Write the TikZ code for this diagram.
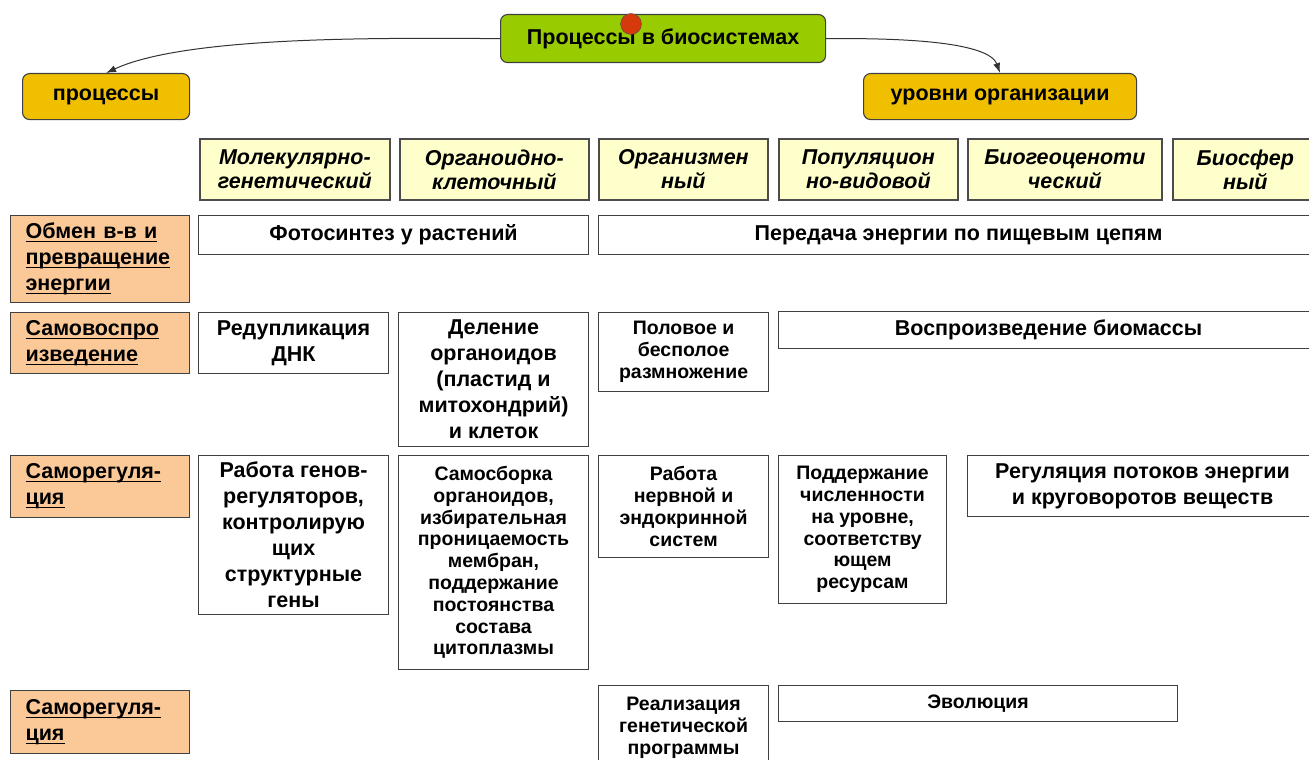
\documentclass[tikz,border=0pt]{standalone}
\usepackage{fontspec}
\setmainfont{Liberation Sans}
\usetikzlibrary{arrows.meta,positioning}
\newcommand{\ulrow}[1]{\leavevmode\setbox0\hbox{#1}\rlap{\rule[-3.5pt]{\wd0}{1.3pt}}\box0}
\definecolor{rootgreen}{RGB}{153,204,0}
\definecolor{groupgold}{RGB}{240,192,0}
\definecolor{levelyellow}{RGB}{255,255,204}
\definecolor{rowpeach}{RGB}{251,201,152}
\definecolor{dotred}{RGB}{214,58,12}
\tikzset{basic/.style={draw=black!75,line width=1.1pt,anchor=north west,inner sep=0pt,align=center,font=\bfseries\fontsize{21.5}{26}\selectfont}}
\tikzset{root/.style={basic,fill=rootgreen,rounded corners=7pt}}
\tikzset{group/.style={basic,fill=groupgold,rounded corners=7pt}}
\tikzset{level/.style={basic,fill=levelyellow,draw=black!70,line width=1.7pt,minimum height=61pt,font=\bfseries\itshape\fontsize{21.5}{24}\selectfont}}
\tikzset{row/.style={basic,fill=rowpeach,align=left,text width=149pt,minimum width=179pt}}
\tikzset{cell/.style={basic,fill=white}}
\tikzset{small/.style={font=\bfseries\fontsize{19.5}{21.8}\selectfont}}
\tikzset{link/.style={draw=black!80,line width=1pt,-{Latex[length=10pt,width=7pt]}}}

\begin{document}
\begin{tikzpicture}[x=1pt,y=-1pt]
    \useasboundingbox (0,0) rectangle (1309,760);

    % top of the map
    \node[root,minimum width=325pt,minimum height=48pt] (bio) at (500,14) {Процессы в биосистемах};
    \node[group,minimum width=167pt,minimum height=46pt] (proc) at (22,73) {процессы};
    \node[group,minimum width=273pt,minimum height=46pt] (lev) at (863,73) {уровни организации};
    \node[circle,draw=black!70,fill=dotred,minimum size=21pt,inner sep=0pt] (dot) at (631,24) {};

    \path[link] (bio.west) to[out=180,in=25,looseness=0.6] (proc.north);
    \path[link] (bio.east) to[out=0,in=110,looseness=0.55] (lev.north);

    % levels
    \node[level,minimum width=190pt] (mol) at (199,138) {Молекулярно-\\генетический};
    \node[level,minimum width=189pt] (org) at (399,138) {Органоидно-\\клеточный};
    \node[level,minimum width=169pt] (body) at (598,138) {Организмен\\ный};
    \node[level,minimum width=179pt] (pop) at (778,138) {Популяцион\\но-видовой};
    \node[level,minimum width=194pt] (eco) at (967,138) {Биогеоценоти\\ческий};
    \node[level,minimum width=145pt] (sph) at (1172,138) {Биосфер\\ный};

    % processes
    \node[row,minimum height=87pt] (met) at (10,215) {\ulrow{Обмен в-в и}\\\ulrow{превращение}\\\ulrow{энергии}};
    \node[row,minimum height=61pt] (rep) at (10,312) {\ulrow{Самовоспро}\\\ulrow{изведение}};
    \node[row,minimum height=62pt] (reg) at (10,455) {\ulrow{Саморегуля-}\\\ulrow{ция}};
    \node[row,minimum height=63pt] (regb) at (10,690) {\ulrow{Саморегуля-}\\\ulrow{ция}};

    % metabolism
    \node[cell,minimum width=390pt,minimum height=39pt] (photo) at (198,215) {Фотосинтез у растений};
    \node[cell,minimum width=720pt,minimum height=39pt] (chain) at (598,215) {Передача энергии по пищевым цепям};

    % reproduction
    \node[cell,minimum width=190pt,minimum height=61pt] (dna) at (198,312) {Редупликация\\ДНК};
    \node[cell,minimum width=190pt,minimum height=134pt] (split) at (398,312) {Деление\\органоидов\\(пластид и\\митохондрий)\\и клеток};
    \node[cell,small,minimum width=170pt,minimum height=79pt] (sex) at (598,312) {Половое и\\бесполое\\размножение};
    \node[cell,minimum width=540pt,minimum height=37pt] (mass) at (778,311) {Воспроизведение биомассы};

    % regulation
    \node[cell,minimum width=190pt,minimum height=159pt] (genes) at (198,455) {Работа генов-\\регуляторов,\\контролирую\\щих\\структурные\\гены};
    \node[cell,small,minimum width=190pt,minimum height=214pt] (self) at (398,455) {Самосборка\\органоидов,\\избирательная\\проницаемость\\мембран,\\поддержание\\постоянства\\состава\\цитоплазмы};
    \node[cell,small,minimum width=170pt,minimum height=102pt] (nerv) at (598,455) {Работа\\нервной и\\эндокринной\\систем};
    \node[cell,small,minimum width=168pt,minimum height=148pt] (num) at (778,455) {Поддержание\\численности\\на уровне,\\соответству\\ющем\\ресурсам};
    \node[cell,minimum width=350pt,minimum height=61pt] (flow) at (967,455) {Регуляция потоков энергии\\и круговоротов веществ};

    % evolution
    \node[cell,small,minimum width=170pt,minimum height=84pt] (prog) at (598,685) {Реализация\\генетической\\программы};
    \node[cell,small,minimum width=399pt,minimum height=36pt] (evo) at (778,685) {Эволюция};
\end{tikzpicture}
\end{document}
